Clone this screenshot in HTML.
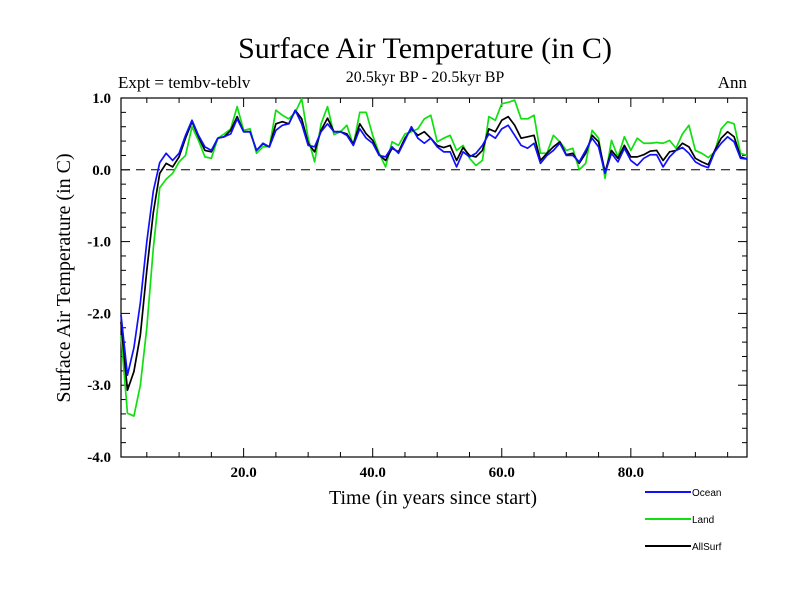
<!DOCTYPE html>
<html><head><meta charset="utf-8"><style>
body{margin:0;background:#fff;}
svg{display:block;}
text{font-family:"Liberation Serif",serif;}
</style></head><body>
<svg id="chart" width="800" height="600">
<text x="425" y="58" font-size="30" text-anchor="middle">Surface Air Temperature (in C)</text>
<text x="425" y="82" font-size="16" text-anchor="middle">20.5kyr BP - 20.5kyr BP</text>
<text x="118" y="88" font-size="17">Expt = tembv-teblv</text>
<text x="747" y="88" font-size="17" text-anchor="end">Ann</text>
<text x="433" y="504" font-size="20" text-anchor="middle">Time (in years since start)</text>
<text transform="translate(70,278) rotate(-90)" font-size="20" text-anchor="middle">Surface Air Temperature (in C)</text>
<g id="axes"></g>
<g id="series"></g>
<g id="legend"></g>
</svg>
<script>
const years=[];for(let i=1;i<=98;i++)years.push(i);
const ocean=[-2.02,-2.86,-2.48,-1.85,-1.0,-0.3,0.1,0.23,0.13,0.23,0.48,0.69,0.48,0.32,0.27,0.44,0.46,0.5,0.71,0.53,0.53,0.27,0.37,0.32,0.55,0.62,0.64,0.83,0.64,0.34,0.32,0.53,0.64,0.53,0.53,0.48,0.34,0.57,0.44,0.37,0.2,0.18,0.32,0.23,0.41,0.6,0.44,0.37,0.44,0.32,0.25,0.25,0.04,0.25,0.18,0.23,0.34,0.5,0.44,0.57,0.62,0.48,0.34,0.3,0.37,0.09,0.2,0.27,0.37,0.2,0.2,0.11,0.27,0.44,0.32,-0.05,0.23,0.11,0.3,0.13,0.06,0.16,0.21,0.21,0.04,0.18,0.27,0.31,0.23,0.11,0.06,0.03,0.25,0.37,0.46,0.39,0.16,0.15];
const land=[-2.3,-3.39,-3.43,-3.0,-2.2,-1.1,-0.25,-0.13,-0.05,0.11,0.2,0.6,0.41,0.18,0.16,0.44,0.5,0.57,0.88,0.55,0.57,0.23,0.32,0.32,0.83,0.76,0.71,0.8,0.99,0.44,0.11,0.64,0.88,0.49,0.53,0.62,0.34,0.8,0.8,0.48,0.23,0.04,0.39,0.34,0.5,0.53,0.57,0.71,0.76,0.39,0.44,0.48,0.27,0.34,0.16,0.06,0.13,0.74,0.69,0.92,0.94,0.97,0.71,0.71,0.76,0.23,0.23,0.48,0.39,0.27,0.3,0.0,0.09,0.55,0.44,-0.12,0.41,0.18,0.46,0.27,0.44,0.37,0.37,0.38,0.37,0.41,0.3,0.5,0.62,0.27,0.23,0.17,0.25,0.57,0.67,0.64,0.23,0.2];
const allsurf=[-2.12,-3.07,-2.81,-2.3,-1.4,-0.6,-0.05,0.09,0.04,0.18,0.44,0.67,0.46,0.27,0.25,0.44,0.46,0.55,0.74,0.53,0.53,0.27,0.36,0.32,0.64,0.67,0.64,0.83,0.71,0.37,0.25,0.55,0.72,0.53,0.53,0.5,0.36,0.64,0.5,0.41,0.21,0.13,0.3,0.25,0.44,0.57,0.48,0.53,0.44,0.34,0.31,0.34,0.13,0.31,0.2,0.18,0.27,0.57,0.53,0.69,0.74,0.62,0.44,0.46,0.48,0.13,0.23,0.32,0.39,0.21,0.23,0.09,0.23,0.48,0.39,-0.03,0.27,0.16,0.34,0.18,0.18,0.21,0.26,0.27,0.13,0.25,0.27,0.37,0.32,0.16,0.11,0.07,0.27,0.44,0.53,0.46,0.18,0.15];
const yTicks=[1.0,0.0,-1.0,-2.0,-3.0,-4.0];
const xTicks=[20,40,60,80];
const L=121,R=747,T=98,B=457,XMIN=1,XMAX=98,YMIN=-4,YMAX=1;
const sx=v=>L+(v-XMIN)/(XMAX-XMIN)*(R-L);
const sy=v=>B-(v-YMIN)/(YMAX-YMIN)*(B-T);
const NS="http://www.w3.org/2000/svg";
function mk(tag,attrs,parent){const e=document.createElementNS(NS,tag);for(const k in attrs)e.setAttribute(k,attrs[k]);parent.appendChild(e);return e;}
const ax=document.getElementById('axes');
let f=mk('rect',{x:L,y:T,width:R-L,height:B-T,fill:'none',stroke:'#000','stroke-width':1.2},ax);


let z=mk('line',{x1:L,x2:R,y1:sy(0),y2:sy(0),stroke:'#000','stroke-dasharray':'9,6','stroke-width':1},ax);


for(let v=-4;v<=1.001;v+=0.2){const y=sy(v);const maj=Math.abs(v-Math.round(v))<1e-6;const len=maj?9:5;
mk('line',{x1:L,x2:L+len,y1:y,y2:y,stroke:'#000'},ax);mk('line',{x1:R,x2:R-len,y1:y,y2:y,stroke:'#000'},ax);}
for(let v=5;v<98;v+=5){const x=sx(v);const maj=v%20==0;const len=maj?9:5;
mk('line',{x1:x,x2:x,y1:B,y2:B-len,stroke:'#000'},ax);mk('line',{x1:x,x2:x,y1:T,y2:T+len,stroke:'#000'},ax);}
yTicks.forEach(v=>{const t=mk('text',{x:111,y:sy(v)+5,'font-size':15,'font-weight':'bold','text-anchor':'end'},ax);t.textContent=v.toFixed(1);

});
xTicks.forEach(v=>{const t=mk('text',{x:sx(v),y:477,'font-size':15,'font-weight':'bold','text-anchor':'middle'},ax);t.textContent=v.toFixed(1);

});
const sg=document.getElementById('series');
const defs=[['ocean',ocean,'#1010ff','Ocean'],['land',land,'#10e010','Land'],['allsurf',allsurf,'#000','AllSurf']];
defs.forEach(([n,d,c])=>{const p=mk('polyline',{points:d.map((v,i)=>sx(years[i])+','+sy(v)).join(' '),fill:'none',stroke:c,'stroke-width':1.7,'stroke-linejoin':'round'},sg);

});
sg.appendChild(sg.children[0]);
const lg=document.getElementById('legend');
defs.forEach(([n,d,c,lab],i)=>{const y=492+i*27;const g=mk('g',{},lg);


mk('line',{x1:645,x2:691,y1:y,y2:y,stroke:c,'stroke-width':2},g);
const t=mk('text',{x:692,y:y+4,'font-size':10,style:'font-family:"Liberation Sans",sans-serif'},g);t.textContent=lab;});
</script>
</body></html>
